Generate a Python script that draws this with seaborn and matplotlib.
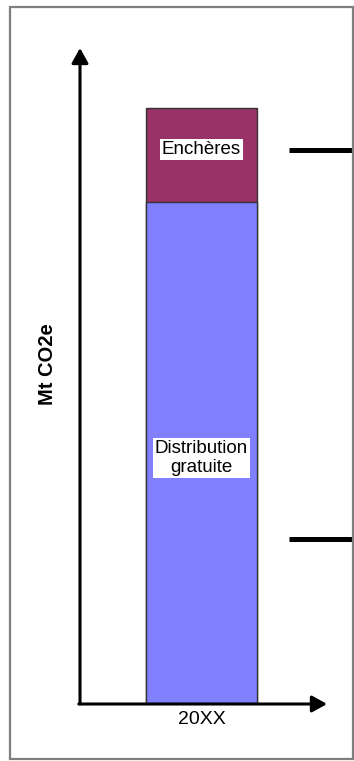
import matplotlib
matplotlib.use("Agg")
import matplotlib.pyplot as plt
from matplotlib.patches import Rectangle
import matplotlib.transforms as mtransforms
import numpy as np
import pandas as pd
import seaborn as sns

# data (Mt CO2e, arbitrary scale)
years = ["20XX"]
free_allocation = [76.5]     # Distribution gratuite
auctions = [14.4]            # Enchères
reference_levels = [84.5, 25.2]   # the two black marks on the right
label_auction = "Enchères"
label_free = "Distribution\ngratuite"

sns.set_theme(style="white")
plt.rcParams['font.family'] = ['Liberation Sans', 'DejaVu Sans']

df = pd.DataFrame({"year": years,
                   "free": free_allocation,
                   "auction": auctions})
df["total"] = df["free"] + df["auction"]

fig = plt.figure(figsize=(3.54, 7.61), dpi=100)
fig.patch.set_facecolor("white")
# grey frame around the whole picture
fig.patches.append(Rectangle((10 / 354, 2 / 761), 343 / 354, 752 / 761,
                             transform=fig.transFigure, fill=False,
                             edgecolor="#7f7f7f", linewidth=1.6))

ax = fig.add_axes([80 / 354, 57 / 761, 247 / 354, 656 / 761])

# stacked bar: total first (auctions on top), then free allocation
sns.barplot(data=df, x="year", y="total", color="#993366", width=0.8,
            edgecolor="#333333", linewidth=1, saturation=1, ax=ax)
sns.barplot(data=df, x="year", y="free", color="#8080FF", width=0.8,
            edgecolor="#333333", linewidth=1, saturation=1, ax=ax)

ax.set_xlim(-0.876, 0.904)
ax.set_ylim(0, 100)
for s in ax.spines.values():
    s.set_visible(False)
ax.set_yticks([])
ax.tick_params(axis="x", length=0, pad=5, labelsize=14, labelcolor="black")
ax.set_xlabel("")
ax.set_ylabel("Mt CO2e", fontsize=14.5, fontweight="bold", color="black")
ax.yaxis.set_label_coords(-0.095, 0.518)

# axes with arrow heads
arrow = dict(arrowstyle="-|>,head_length=0.45,head_width=0.25",
             color="black", lw=2.2, mutation_scale=20,
             shrinkA=0, shrinkB=0)
ax.annotate("", xy=(0, 1), xytext=(0, 0), xycoords="axes fraction",
            textcoords="axes fraction", arrowprops=arrow, annotation_clip=False)
ax.annotate("", xy=(1, 0), xytext=(-0.005, 0), xycoords="axes fraction",
            textcoords="axes fraction", arrowprops=arrow, annotation_clip=False)

# labels inside the bar
box = dict(facecolor="white", edgecolor="none", pad=1.5)
ax.text(0, df["free"][0] + df["auction"][0] / 2 + 0.8, label_auction,
        ha="center", va="center", fontsize=13.5, color="black", bbox=box)
ax.text(0, df["free"][0] * 0.49, label_free, ha="center", va="center",
        fontsize=13.5, color="black", bbox=box, linespacing=1.1)

# black marks on the right (cut off by the frame)
trans = mtransforms.blended_transform_factory(ax.transAxes, ax.transData)
ax.hlines(reference_levels, 0.846, 1.105, transform=trans, color="black",
          linewidth=3.6, clip_on=False)

fig.savefig("out.png", dpi=100)
